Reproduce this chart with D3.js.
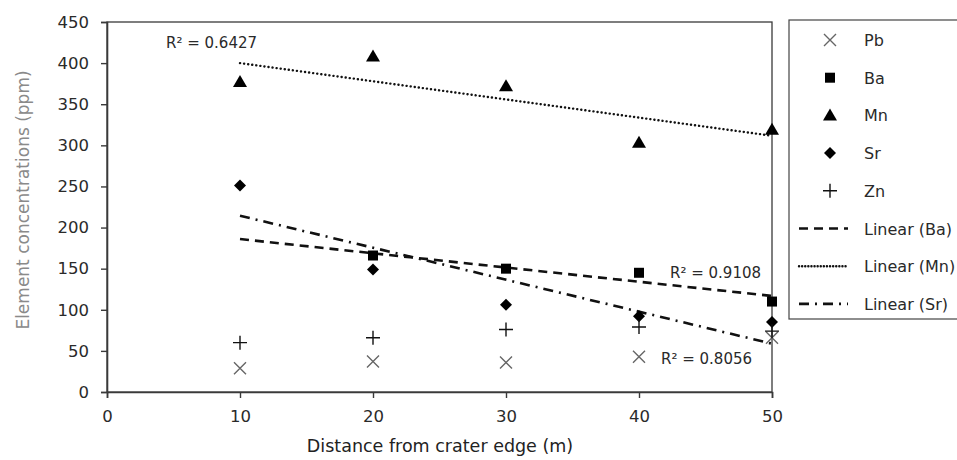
<!DOCTYPE html>
<html>
<head>
<meta charset="utf-8">
<script src="https://cdn.jsdelivr.net/npm/d3@7"></script>
<style>
  body { margin: 0; background: #fff; overflow: hidden; }
  svg text { font-family: "DejaVu Sans", sans-serif; }
</style>
</head>
<body>
<div id="chart"></div>
<script>
// chart data
var distances = [10, 20, 30, 40, 50];
var pbValues = [29, 37, 36, 43, 66];
var baDist = [20, 30, 40, 50];
var baValues = [166, 150, 145, 110];
var mnValues = [377, 408, 372, 303, 319];
var srValues = [251, 149, 106, 92, 85];
var znValues = [60, 66, 76, 79, 74];
var xTicks = [0, 10, 20, 30, 40, 50];
var yTicks = [0, 50, 100, 150, 200, 250, 300, 350, 400, 450];
var r2Labels = ["R\u00B2 = 0.6427", "R\u00B2 = 0.9108", "R\u00B2 = 0.8056"];
var legendLabels = ["Pb", "Ba", "Mn", "Sr", "Zn", "Linear (Ba)", "Linear (Mn)", "Linear (Sr)"];

var svgWidth = 957;
var svgHeight = 460;

var chartMargin = { top: 22, left: 107, right: 185, bottom: 68 };
var chartWidth = 772 - chartMargin.left;
var chartHeight = 392 - chartMargin.top;

var svg = d3.select("#chart")
  .append("svg")
  .attr("width", svgWidth)
  .attr("height", svgHeight);

var chartGroup = svg.append("g")
  .attr("transform", `translate(${chartMargin.left}, ${chartMargin.top})`);

var xScale = d3.scaleLinear().domain([0, 50]).range([0, chartWidth]);
var yScale = d3.scaleLinear().domain([0, 450]).range([chartHeight, 0]);

// linear least-squares fit, like an Excel trendline
function linearFit(xs, ys) {
  var mx = d3.mean(xs), my = d3.mean(ys);
  var num = 0, den = 0;
  xs.forEach(function(x, i) {
    num += (x - mx) * (ys[i] - my);
    den += (x - mx) * (x - mx);
  });
  var slope = num / den;
  return function(x) { return my + slope * (x - mx); };
}

// frame (top and right border)
chartGroup.append("rect")
  .attr("x", 0).attr("y", 0)
  .attr("width", chartWidth).attr("height", chartHeight)
  .attr("fill", "none")
  .attr("stroke", "#3a3a3a")
  .attr("stroke-width", 1.3);

// axes
var bottomAxis = d3.axisBottom(xScale).tickValues(xTicks).tickSize(6).tickPadding(10);
var leftAxis = d3.axisLeft(yScale).tickValues(yTicks).tickSize(6).tickPadding(12);

var xAxis = chartGroup.append("g")
  .attr("transform", `translate(0, ${chartHeight})`)
  .call(bottomAxis);
var yAxis = chartGroup.append("g").call(leftAxis);

[xAxis, yAxis].forEach(function(ax) {
  ax.select(".domain").attr("stroke", "#3a3a3a").attr("stroke-width", 1.6);
  ax.selectAll(".tick line").attr("stroke", "#3a3a3a").attr("stroke-width", 1.4);
  ax.selectAll(".tick text")
    .attr("fill", "#2a2a2a")
    .style("font-size", "16.5px")
    .style("font-family", "DejaVu Sans, sans-serif");
});
xAxis.selectAll(".tick text").attr("dy", "0.85em");

// trendlines
var trendData = [
  { xs: baDist, ys: baValues, dash: "9,6", width: 2.6, cap: "butt" },
  { xs: distances, ys: mnValues, dash: "0.1,4", width: 2.4, cap: "round" },
  { xs: distances, ys: srValues, dash: "10,6,2,6", width: 2.6, cap: "butt" }
];
trendData.forEach(function(t) {
  var f = linearFit(t.xs, t.ys);
  chartGroup.append("line")
    .attr("x1", xScale(10)).attr("y1", yScale(f(10)))
    .attr("x2", xScale(50)).attr("y2", yScale(f(50)))
    .attr("stroke", "#111")
    .attr("stroke-width", t.width)
    .attr("stroke-linecap", t.cap)
    .attr("stroke-dasharray", t.dash);
});

// marker shapes
function markerPath(kind) {
  if (kind === "x") return "M-6,-6L6,6M-6,6L6,-6";
  if (kind === "plus") return "M-7,0L7,0M0,-7L0,7";
  if (kind === "square") return "M-5,-5L5,-5L5,5L-5,5Z";
  if (kind === "triangle") return "M0,-7L7,5L-7,5Z";
  if (kind === "diamond") return "M0,-6L6,0L0,6L-6,0Z";
}
function markerStyle(sel, kind) {
  if (kind === "x") {
    sel.attr("fill", "none").attr("stroke", "#666").attr("stroke-width", 1.4);
  } else if (kind === "plus") {
    sel.attr("fill", "none").attr("stroke", "#111").attr("stroke-width", 1.4);
  } else {
    sel.attr("fill", "#000").attr("stroke", "none");
  }
  return sel;
}

var seriesList = [
  { xs: distances, ys: pbValues, kind: "x" },
  { xs: baDist, ys: baValues, kind: "square" },
  { xs: distances, ys: mnValues, kind: "triangle" },
  { xs: distances, ys: srValues, kind: "diamond" },
  { xs: distances, ys: znValues, kind: "plus" }
];
seriesList.forEach(function(s) {
  var pts = s.xs.map(function(x, i) { return [x, s.ys[i]]; });
  var sel = chartGroup.selectAll(null)
    .data(pts)
    .enter()
    .append("path")
    .attr("d", markerPath(s.kind))
    .attr("transform", d => `translate(${xScale(d[0])}, ${yScale(d[1])})`);
  markerStyle(sel, s.kind);
});

// R squared labels
var r2Pos = [[166, 48], [670, 278], [661, 364]];
r2Labels.forEach(function(lab, i) {
  svg.append("text")
    .attr("x", r2Pos[i][0]).attr("y", r2Pos[i][1])
    .attr("fill", "#2a2a2a")
    .style("font-size", "15px")
    .text(lab);
});

// axis titles
svg.append("text")
  .attr("x", 440).attr("y", 452)
  .attr("text-anchor", "middle")
  .attr("fill", "#222")
  .style("font-size", "17.5px")
  .text("Distance from crater edge (m)");

svg.append("text")
  .attr("transform", "translate(29, 200) rotate(-90)")
  .attr("text-anchor", "middle")
  .attr("fill", "#8a8a8a")
  .style("font-size", "17px")
  .text("Element concentrations (ppm)");

// legend (right edge runs off the picture)
var legend = svg.append("g");
legend.append("rect")
  .attr("x", 789).attr("y", 20)
  .attr("width", 200).attr("height", 299)
  .attr("fill", "#fff")
  .attr("stroke", "#444")
  .attr("stroke-width", 1.2);

var legendKinds = ["x", "square", "triangle", "diamond", "plus"];
legendLabels.forEach(function(lab, i) {
  var y = 40 + i * 37.7;
  if (i < 5) {
    var m = legend.append("path")
      .attr("d", markerPath(legendKinds[i]))
      .attr("transform", `translate(830, ${y})`);
    markerStyle(m, legendKinds[i]);
  } else {
    var t = trendData[i - 5];
    legend.append("line")
      .attr("x1", 799).attr("x2", 848)
      .attr("y1", y).attr("y2", y)
      .attr("stroke", "#111")
      .attr("stroke-width", t.width)
      .attr("stroke-linecap", t.cap)
      .attr("stroke-dasharray", i === 6 ? "0.1,3" : t.dash);
  }
  legend.append("text")
    .attr("x", 864).attr("y", y + 6)
    .attr("fill", "#2a2a2a")
    .style("font-size", "16px")
    .text(lab);
});
</script>
</body>
</html>
